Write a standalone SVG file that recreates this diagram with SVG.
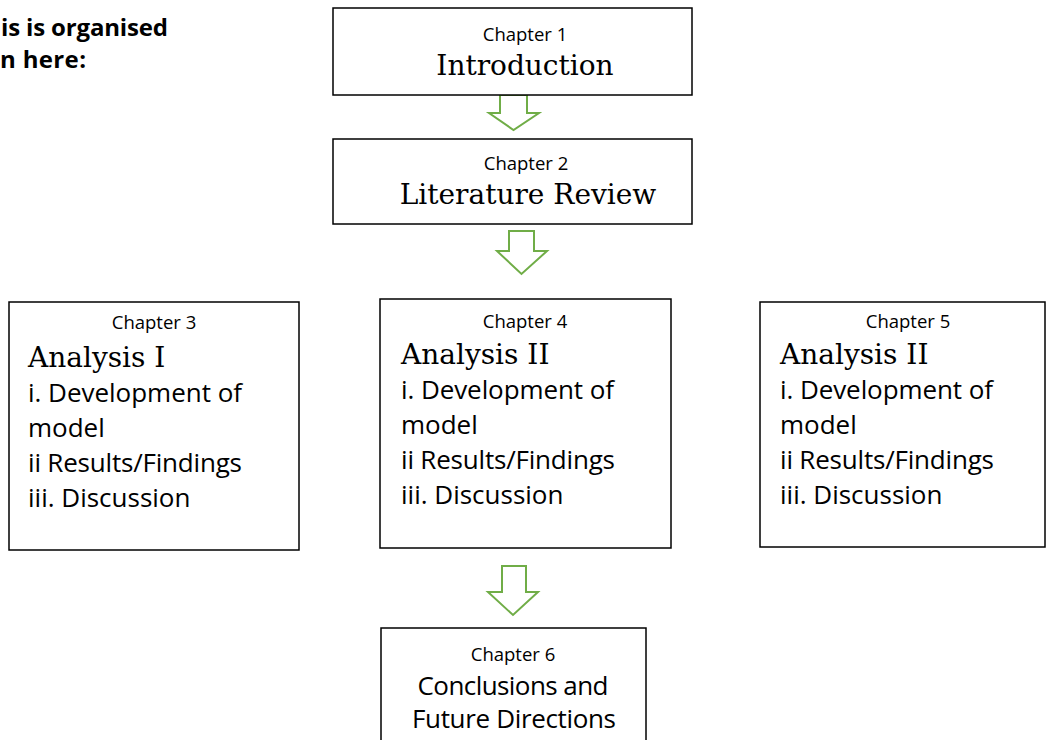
<svg xmlns="http://www.w3.org/2000/svg" width="1046" height="740" viewBox="0 0 1046 740">
<style>
.box{fill:#fff;stroke:#000;stroke-width:1.5}
.arr{fill:#fff;stroke:#70AD47;stroke-width:2;stroke-linejoin:miter}
.ch{font-family:"Open Sans","Liberation Sans",sans-serif;font-size:18.5px;fill:#000;text-anchor:middle}
.ttl{font-family:"DejaVu Serif","Liberation Serif",serif;font-size:28px;fill:#000}
.body{font-family:"Open Sans","Liberation Sans",sans-serif;font-size:26px;fill:#000}
.hd{font-family:"Open Sans","Liberation Sans",sans-serif;font-size:24px;font-weight:bold;fill:#000}
</style>
<rect width="1046" height="740" fill="#fff"/>
<g id="heading">
<text class="hd" x="1" y="36" textLength="167">is is organised</text>
<text class="hd" x="0" y="68" textLength="86">n here:</text>
</g>
<g id="connectors">
<path class="arr" d="M500,95 H527 V113 H539 L513.5,130 L489,113 H500 Z"/>
<path class="arr" d="M509,231 H534 V251 H547 L521.5,274 L497,251 H509 Z"/>
<path class="arr" d="M502,566 H526 V592 H538 L513,615 L488,592 H502 Z"/>
</g>
<g id="chapter1">
<rect class="box" x="333" y="8" width="359" height="87"/>
<text class="ch" x="525" y="41">Chapter 1</text>
<text class="ttl" x="525" y="75" text-anchor="middle">Introduction</text>
</g>
<g id="chapter2">
<rect class="box" x="333" y="139" width="359" height="85"/>
<text class="ch" x="526" y="170">Chapter 2</text>
<text class="ttl" x="528" y="204" text-anchor="middle">Literature Review</text>
</g>
<g id="chapter3">
<rect class="box" x="9" y="302" width="290" height="248"/>
<text class="ch" x="154" y="329">Chapter 3</text>
<text class="ttl" x="28" y="367">Analysis I</text>
<text class="body" x="28" y="402" textLength="214">i. Development of</text>
<text class="body" x="28" y="437">model</text>
<text class="body" x="28" y="472" textLength="214">ii Results/Findings</text>
<text class="body" x="28" y="507">iii. Discussion</text>
</g>
<g id="chapter4">
<rect class="box" x="380" y="299" width="291" height="249"/>
<text class="ch" x="525" y="328">Chapter 4</text>
<text class="ttl" x="401" y="364">Analysis II</text>
<text class="body" x="401" y="399" textLength="213">i. Development of</text>
<text class="body" x="401" y="434">model</text>
<text class="body" x="401" y="469" textLength="214">ii Results/Findings</text>
<text class="body" x="401" y="504">iii. Discussion</text>
</g>
<g id="chapter5">
<rect class="box" x="760" y="302" width="285" height="245"/>
<text class="ch" x="908" y="328">Chapter 5</text>
<text class="ttl" x="780" y="364">Analysis II</text>
<text class="body" x="780" y="399" textLength="213">i. Development of</text>
<text class="body" x="780" y="434">model</text>
<text class="body" x="780" y="469" textLength="214">ii Results/Findings</text>
<text class="body" x="780" y="504">iii. Discussion</text>
</g>
<g id="chapter6">
<rect class="box" x="381" y="628" width="265" height="130"/>
<text class="ch" x="513" y="661">Chapter 6</text>
<text class="body" x="513" y="695" text-anchor="middle" textLength="191">Conclusions and</text>
<text class="body" x="514" y="728" text-anchor="middle" textLength="204">Future Directions</text>
</g>
</svg>
